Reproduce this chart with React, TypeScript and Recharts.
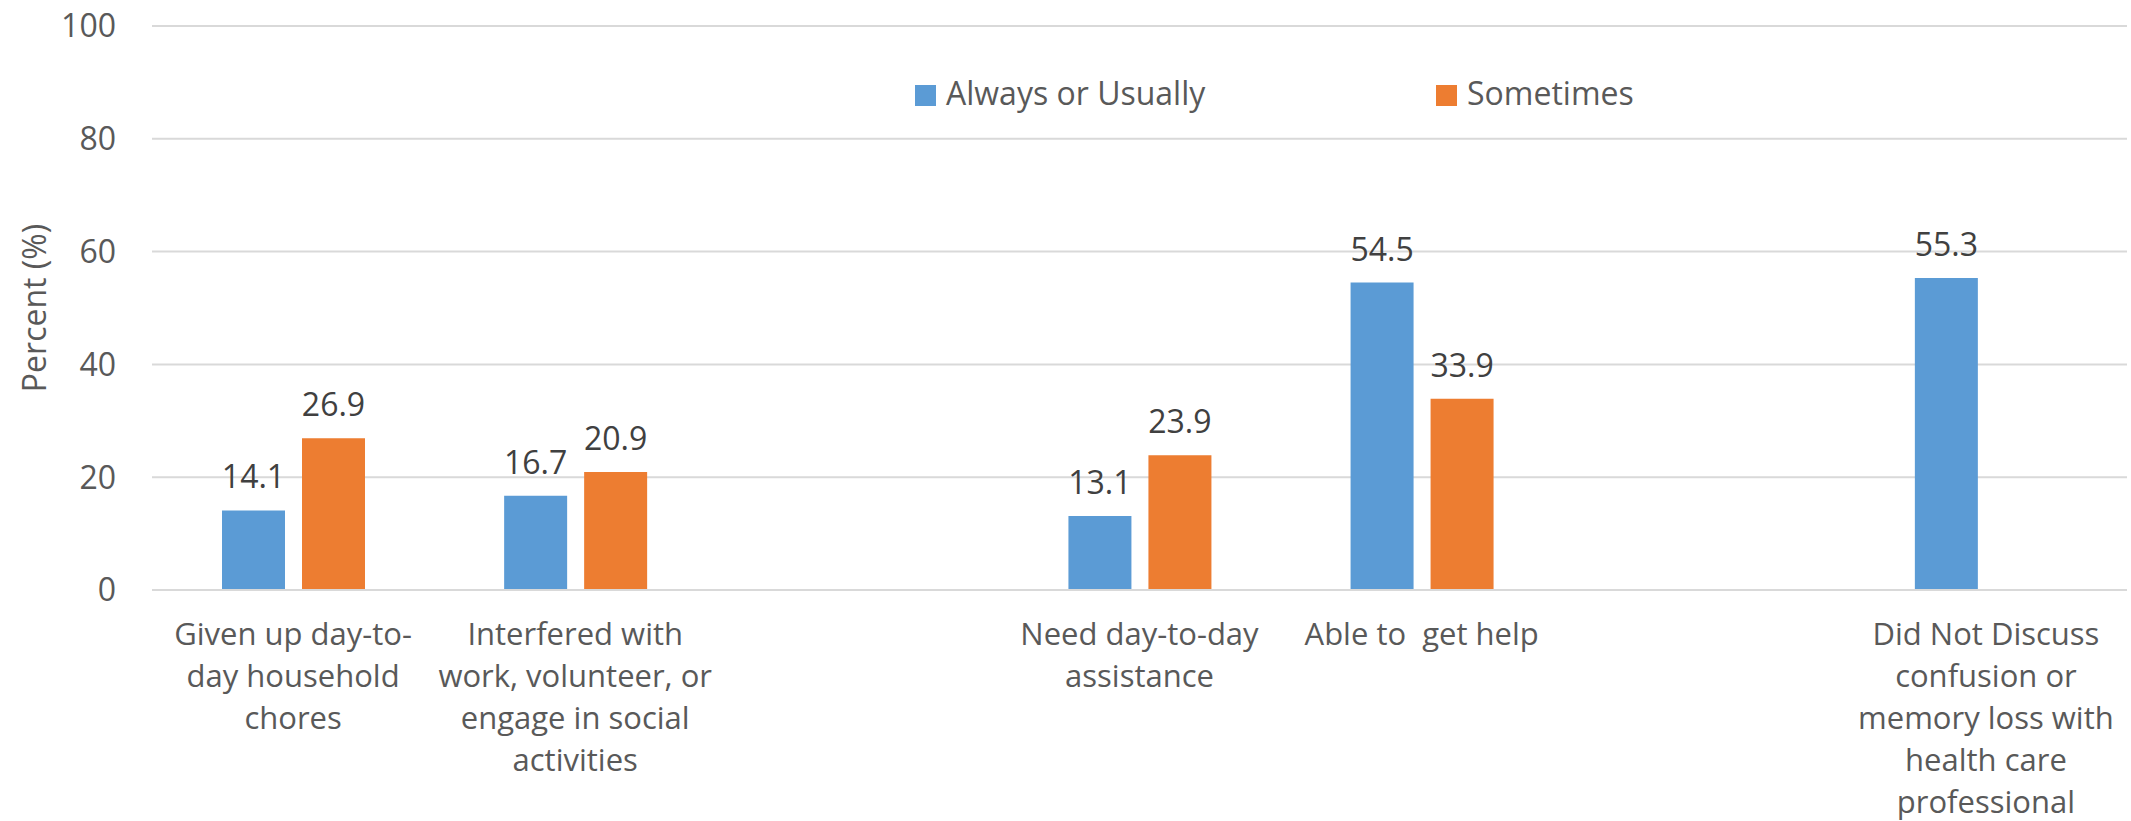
import React from "react";
import {
  BarChart,
  Bar,
  XAxis,
  YAxis,
  CartesianGrid,
  Legend,
  LabelList,
  Label,
} from "recharts";

// category slots (empty slots are the gaps between groups)
const categories = ["given", "interfered", "gap1", "need", "able", "gap2", "discuss"];
const categoryLabels: string[][] = [
  ["Given up day-to-", "day household", "chores"],
  ["Interfered with", "work, volunteer, or", "engage in social", "activities"],
  [],
  ["Need day-to-day", "assistance"],
  ["Able to  get help"],
  [],
  ["Did Not Discuss", "confusion or", "memory loss with", "health care", "professional"],
];
const alwaysValues = [14.1, 16.7, null, 13.1, 54.5, null, 55.3];
const sometimesValues = [26.9, 20.9, null, 23.9, 33.9, null, null];
const yTicks = [0, 20, 40, 60, 80, 100];

const BLUE = "#5b9bd5";
const ORANGE = "#ed7d31";
const FONT = "'Open Sans', 'Noto Sans', sans-serif";

const data = categories.map((c, i) => ({
  key: c,
  always: alwaysValues[i],
  sometimes: sometimesValues[i],
}));

function CategoryTick(props: any) {
  const { x, y, index } = props;
  const lines = categoryLabels[index] || [];
  return (
    <text
      x={x}
      y={y}
      textAnchor="middle"
      fill="#595959"
      fontSize={31}
      fontFamily={FONT}
    >
      {lines.map((line, i) => (
        <tspan key={i} x={x} dy={i === 0 ? 55 : 42} style={{ whiteSpace: "pre" }}>
          {line}
        </tspan>
      ))}
    </text>
  );
}

function LegendContent() {
  const items = [
    { name: "Always or Usually", color: BLUE, width: 521 },
    { name: "Sometimes", color: ORANGE, width: 260 },
  ];
  return (
    <div style={{ display: "flex", fontFamily: FONT, fontSize: 32, color: "#595959", lineHeight: "32px" }}>
      {items.map((it) => (
        <div key={it.name} style={{ display: "flex", alignItems: "flex-start", width: it.width }}>
          <span
            style={{
              display: "inline-block",
              width: 21,
              height: 21,
              marginTop: 8,
              marginRight: 10,
              background: it.color,
            }}
          />
          <span>{it.name}</span>
        </div>
      ))}
    </div>
  );
}

function fmt(v: any) {
  return v == null ? "" : Number(v).toFixed(1);
}

export default function App() {
  return (
    <div style={{ width: 2131, height: 821, background: "#fff" }}>
      <style>{"body{margin:0}"}</style>
      <BarChart
        width={2131}
        height={821}
        data={data}
        margin={{ top: 26, right: 4, left: 0, bottom: 0 }}
        barSize={63}
        barGap={17}
      >
        <CartesianGrid vertical={false} stroke="#d9d9d9" strokeWidth={2} />
        <XAxis
          dataKey="key"
          height={231}
          interval={0}
          tickLine={false}
          tickSize={0}
          tickMargin={0}
          axisLine={{ stroke: "#d9d9d9", strokeWidth: 2 }}
          tick={<CategoryTick />}
        />
        <YAxis
          width={152}
          domain={[0, 100]}
          ticks={yTicks}
          interval={0}
          axisLine={false}
          tickLine={false}
          tickSize={0}
          tickMargin={36}
          tick={{ fill: "#595959", fontSize: 32, fontFamily: FONT }}
        >
          <Label
            content={(p: any) => {
              const vb = p.viewBox;
              const cy = vb.y + vb.height / 2;
              return (
                <text
                  x={46}
                  y={cy}
                  transform={`rotate(-90, 46, ${cy})`}
                  textAnchor="middle"
                  fill="#595959"
                  fontSize={32}
                  fontFamily={FONT}
                >
                  Percent (%)
                </text>
              );
            }}
          />
        </YAxis>
        <Legend
          layout="horizontal"
          verticalAlign="middle"
          align="center"
          content={<LegendContent />}
          wrapperStyle={{ top: 77, left: 915, width: 900, height: 40 }}
        />
        <Bar dataKey="always" name="Always or Usually" fill={BLUE} isAnimationActive={false}>
          <LabelList
            dataKey="always"
            position="top"
            offset={22}
            formatter={fmt}
            fill="#404040"
            fontSize={32}
            fontFamily={FONT}
          />
        </Bar>
        <Bar dataKey="sometimes" name="Sometimes" fill={ORANGE} isAnimationActive={false}>
          <LabelList
            dataKey="sometimes"
            position="top"
            offset={22}
            formatter={fmt}
            fill="#404040"
            fontSize={32}
            fontFamily={FONT}
          />
        </Bar>
      </BarChart>
    </div>
  );
}
